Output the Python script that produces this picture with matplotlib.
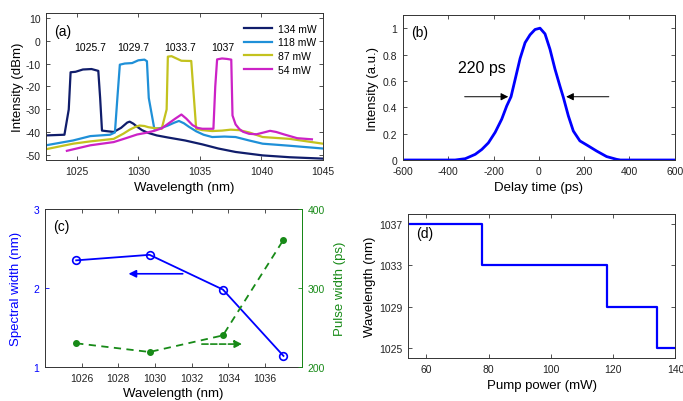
import matplotlib
matplotlib.use("Agg")
import matplotlib.pyplot as plt

plt.rcParams['font.family'] = ['Liberation Sans', 'DejaVu Sans']
plt.rcParams['axes.unicode_minus'] = False

# (a) spectra (wavelength nm, intensity dBm)
wl_134 = [1022.5, 1024.0, 1024.35, 1024.5, 1024.9, 1025.5, 1026.2, 1026.75, 1026.9, 1027.05,
          1028.0, 1028.6, 1029.1, 1029.3, 1029.6, 1029.9, 1030.3, 1030.8, 1031.5, 1032.4,
          1033.8, 1035.2, 1036.5, 1037.9, 1040.1, 1042.3, 1045.0]
db_134 = [-41.3, -41.0, -30.0, -13.8, -13.6, -12.6, -12.4, -13.2, -25.0, -39.2,
          -39.8, -38.0, -35.7, -35.3, -36.2, -37.5, -39.0, -40.2, -41.3, -42.2,
          -43.5, -45.2, -47.0, -48.5, -50.0, -50.8, -51.4]

wl_118 = [1022.5, 1024.7, 1026.1, 1027.7, 1028.1, 1028.3, 1028.5, 1028.9, 1029.5, 1030.0,
          1030.5, 1030.7, 1030.85, 1031.3, 1031.9, 1032.4, 1032.9, 1033.3, 1033.7, 1034.1,
          1034.7, 1035.3, 1036.0, 1037.0, 1037.9, 1039.0, 1040.1, 1042.3, 1045.0]
db_118 = [-45.6, -43.5, -41.6, -41.0, -40.0, -25.0, -10.5, -10.0, -9.8, -8.6,
          -8.3, -9.0, -25.0, -38.4, -38.0, -37.0, -35.8, -35.0, -36.0, -37.5,
          -39.5, -41.0, -42.0, -41.8, -42.0, -43.5, -44.9, -45.8, -47.0]

wl_87 = [1022.5, 1024.7, 1026.1, 1028.0, 1028.8, 1029.3, 1029.8, 1030.1, 1030.5, 1030.8,
         1031.4, 1031.9, 1032.3, 1032.4, 1032.7, 1033.5, 1034.3, 1034.45, 1034.7, 1035.2,
         1036.0, 1036.8, 1037.5, 1038.2, 1039.0, 1040.1, 1042.3, 1045.0]
db_87 = [-47.3, -44.9, -43.9, -42.8, -40.5, -38.8, -37.5, -37.0, -37.2, -37.7,
         -38.2, -38.4, -30.0, -7.0, -6.8, -8.8, -8.9, -20.0, -38.4, -39.0,
         -39.4, -39.2, -38.8, -39.0, -40.0, -42.0, -42.8, -44.9]

wl_54 = [1024.2, 1026.1, 1028.0, 1029.0, 1029.9, 1030.6, 1031.3, 1031.9, 1032.4, 1033.0,
         1033.5, 1033.9, 1034.4, 1034.8, 1035.2, 1036.1, 1036.25, 1036.4, 1036.8, 1037.2,
         1037.55, 1037.65, 1037.9, 1038.2, 1038.5, 1039.0, 1039.6, 1040.2, 1040.7, 1041.2,
         1041.8, 1042.9, 1044.1]
db_54 = [-48.0, -45.6, -44.2, -42.5, -40.9, -40.2, -39.3, -38.2, -36.3, -34.0,
         -32.2, -34.0, -36.8, -38.0, -38.4, -38.4, -20.0, -8.2, -7.8, -8.0,
         -8.3, -32.6, -36.5, -38.5, -39.7, -40.6, -40.8, -40.0, -39.3, -39.8,
         -40.8, -42.5, -43.0]

spec_labels = ['134 mW', '118 mW', '87 mW', '54 mW']
spec_colors = ['#101d6b', '#1f90d8', '#c3c21e', '#cc22c6']
peak_labels = ['1025.7', '1029.7', '1033.7', '1037']
peak_pos = [1026.1, 1029.6, 1033.4, 1036.9]

# (b) autocorrelation trace
delay = [-600, -370, -325, -281, -252, -223, -193, -164, -142, -123, -105, -83, -61, -39,
         -17, 5, 27, 49, 71, 93, 108, 130, 152, 181, 218, 255, 299, 343, 360, 600]
inten = [0, 0, 0.01, 0.043, 0.08, 0.13, 0.21, 0.31, 0.41, 0.48, 0.61, 0.77, 0.89, 0.95,
         0.99, 1.0, 0.957, 0.84, 0.69, 0.56, 0.475, 0.335, 0.22, 0.145, 0.107, 0.068, 0.026,
         0.005, 0, 0]
b_yticks = [0, 0.2, 0.4, 0.6, 0.8, 1.0]
b_yticklabels = ['0', '0.2', '0.4', '0.6', '0.8', '1']

# (c) spectral width and pulse width vs wavelength
c_wl = [1025.7, 1029.7, 1033.7, 1037.0]
spec_width = [2.35, 2.42, 1.98, 1.14]
pulse_width = [230, 219, 240, 361]

# (d) wavelength vs pump power
pump = [54, 78, 118, 134, 140]
lam = [1037, 1033, 1029, 1025, 1025]

blue = '#0000ff'
green = '#178a17'
frame = '#333333'


def style(ax):
    ax.tick_params(direction='in', top=True, right=True, labelsize=7.5, length=3,
                   width=0.6, colors=frame, labelcolor='#222222', pad=4)
    for s in ax.spines.values():
        s.set_linewidth(0.7)
        s.set_color(frame)


fig = plt.figure(figsize=(6.83, 4.02), dpi=100)

# ---- (a)
ax = fig.add_axes([0.0673, 0.5995, 0.4056, 0.3657])
for x, y, c, l in zip([wl_134, wl_118, wl_87, wl_54], [db_134, db_118, db_87, db_54],
                      spec_colors, spec_labels):
    ax.plot(x, y, color=c, lw=1.6, label=l)
ax.set_xlim(1022.5, 1045)
ax.set_ylim(-52, 12)
ax.set_xticks([1025, 1030, 1035, 1040, 1045])
ax.set_yticks([-50, -40, -30, -20, -10, 0, 10])
style(ax)
ax.set_xlabel('Wavelength (nm)', fontsize=9.5, labelpad=4)
ax.set_ylabel('Intensity (dBm)', fontsize=9.5, labelpad=1)
for p, t in zip(peak_pos, peak_labels):
    ax.text(p, -3, t, fontsize=7.5, ha='center', va='center')
ax.text(0.03, 0.88, '(a)', transform=ax.transAxes, fontsize=10, va='center')
ax.legend(loc='upper right', bbox_to_anchor=(1.0, 0.97), frameon=False, fontsize=7.5,
          handlelength=2.7, handletextpad=0.6, labelspacing=0.35, borderaxespad=0.2)

# ---- (b)
ax = fig.add_axes([0.590, 0.5995, 0.398, 0.3607])
ax.plot(delay, inten, color=blue, lw=2)
ax.set_xlim(-600, 600)
ax.set_ylim(0, 1.1)
ax.set_xticks([-600, -400, -200, 0, 200, 400, 600])
ax.set_yticks(b_yticks)
ax.set_yticklabels(b_yticklabels)
style(ax)
ax.set_xlabel('Delay time (ps)', fontsize=9.5, labelpad=4)
ax.set_ylabel('Intensity (a.u.)', fontsize=9.5, labelpad=3)
ax.annotate('', xy=(-123, 0.48), xytext=(-340, 0.48),
            arrowprops=dict(arrowstyle='-|>', color='black', lw=0.7, mutation_scale=11))
ax.annotate('', xy=(108, 0.48), xytext=(321, 0.48),
            arrowprops=dict(arrowstyle='-|>', color='black', lw=0.7, mutation_scale=11))
ax.text(-252, 0.70, '220 ps', fontsize=11.5, ha='center', va='center')
ax.text(0.03, 0.88, '(b)', transform=ax.transAxes, fontsize=10, va='center')

# ---- (c)
ax = fig.add_axes([0.0659, 0.0846, 0.376, 0.393])
ax2 = ax.twinx()
ax.plot(c_wl, spec_width, color=blue, lw=1.3, marker='o', mfc='none', mec=blue, ms=5.5, mew=1.2)
ax2.plot(c_wl, pulse_width, color=green, lw=1.3, ls='--', dashes=(4, 3), marker='o', ms=4,
         mfc=green, mec=green)
ax.set_xlim(1024, 1038)
ax.set_ylim(1, 3)
ax2.set_ylim(200, 400)
ax.set_xticks([1026, 1028, 1030, 1032, 1034, 1036])
ax.set_yticks([1, 2, 3])
ax2.set_yticks([200, 300, 400])
ax.tick_params(direction='in', top=True, labelsize=7.5, length=3, width=0.6, colors=frame,
               labelcolor='#222222', pad=4)
ax.tick_params(axis='y', right=False, labelcolor=blue, colors=blue)
ax2.tick_params(direction='in', labelsize=7.5, length=3, width=0.6, colors=green,
                labelcolor=green, pad=4)
for s in ax.spines.values():
    s.set_linewidth(0.7)
    s.set_color(frame)
for s in ax2.spines.values():
    s.set_linewidth(0.7)
    s.set_visible(False)
ax2.spines['right'].set_visible(True)
ax2.spines['right'].set_color(green)
ax.set_xlabel('Wavelength (nm)', fontsize=9.5, labelpad=3)
ax.set_ylabel('Spectral width (nm)', fontsize=9.5, color=blue, labelpad=8)
ax2.set_ylabel('Pulse width (ps)', fontsize=9.5, color=green, labelpad=7)
ax.annotate('', xy=(1028.4, 2.18), xytext=(1031.66, 2.18),
            arrowprops=dict(arrowstyle='-|>', color=blue, lw=1.2, mutation_scale=11))
ax2.annotate('', xy=(1034.9, 229), xytext=(1032.4, 229),
             arrowprops=dict(arrowstyle='-|>', color=green, lw=1.2, ls='--', mutation_scale=11))
ax.text(0.03, 0.89, '(c)', transform=ax.transAxes, fontsize=10, va='center')

# ---- (d)
ax = fig.add_axes([0.597, 0.107, 0.392, 0.358])
ax.step(pump, lam, where='post', color=blue, lw=1.6)
ax.set_xlim(54, 140)
ax.set_ylim(1024, 1038)
ax.set_xticks([60, 80, 100, 120, 140])
ax.set_yticks([1025, 1029, 1033, 1037])
style(ax)
ax.set_xlabel('Pump power (mW)', fontsize=9.5, labelpad=4)
ax.set_ylabel('Wavelength (nm)', fontsize=9.5, labelpad=2)
ax.text(0.03, 0.87, '(d)', transform=ax.transAxes, fontsize=10, va='center')

fig.savefig('out.png', dpi=100)
